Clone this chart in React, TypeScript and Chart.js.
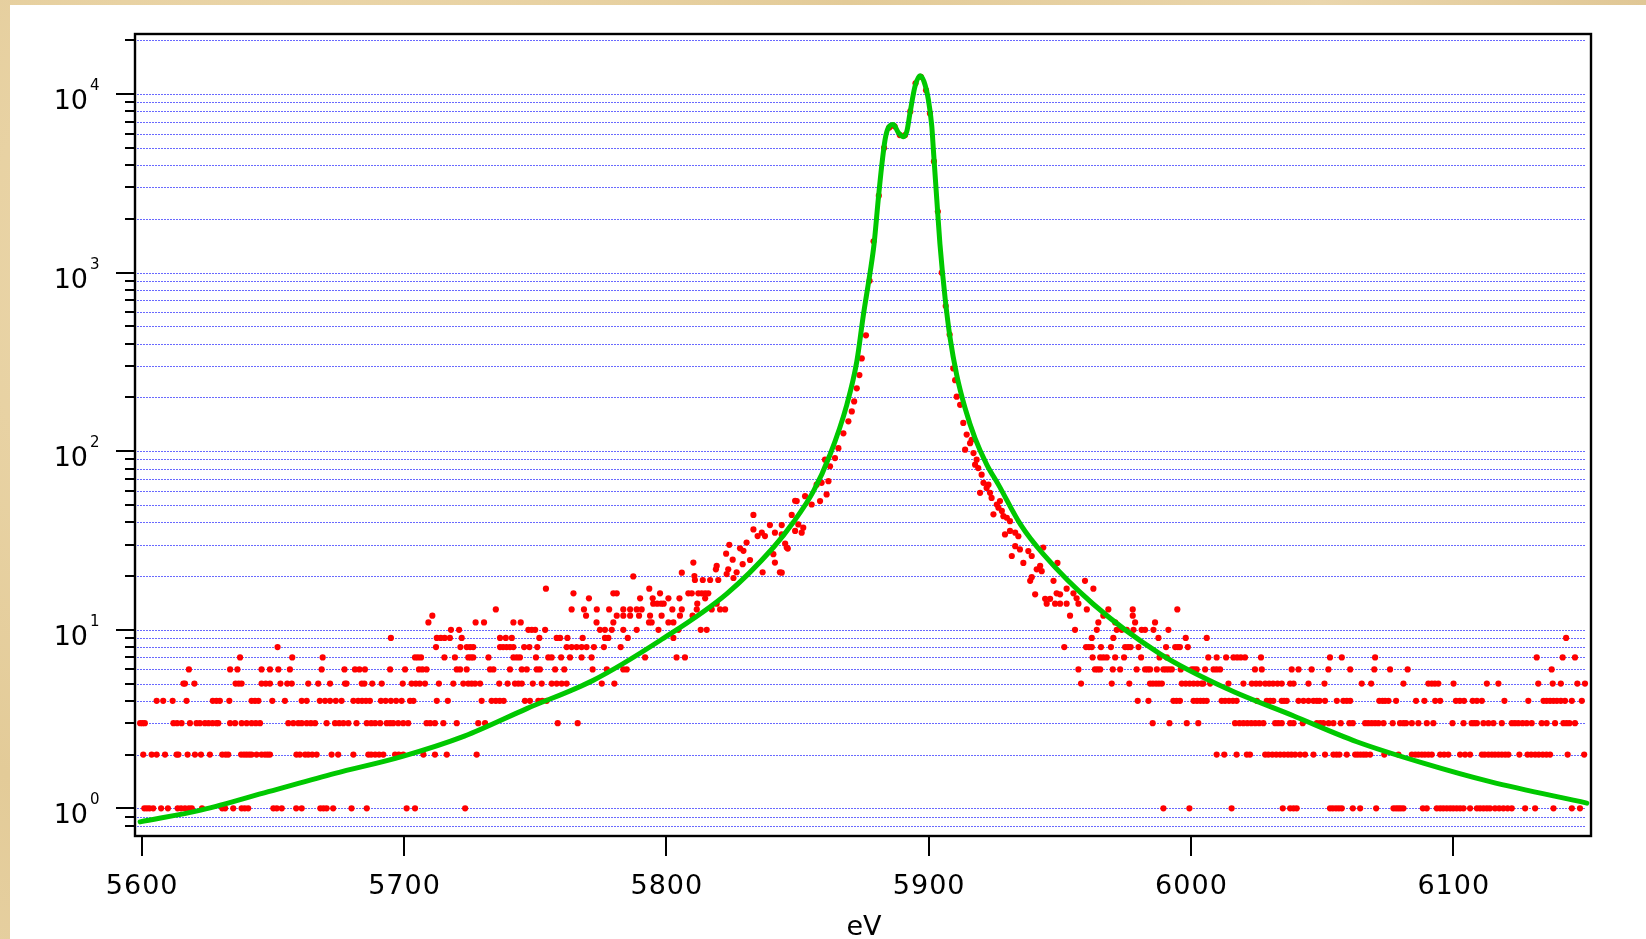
import React, { useEffect, useRef } from "react";
import { Chart, registerables } from "chart.js";

Chart.register(...registerables);

// ---------- axes ----------
const X_MIN = 5597.45;
const X_MAX = 6152.5;
const Y_MIN = 0.735;
const Y_MAX = 21715;
const xTickValues = [5600, 5700, 5800, 5900, 6000, 6100];
const yMajorValues = [1, 10, 100, 1000, 10000];
const yMajorExponents = ["0", "1", "2", "3", "4"];
const yMinorValues = [
  0.8, 0.9, 2, 3, 4, 5, 6, 7, 8, 9, 20, 30, 40, 50, 60, 70, 80, 90,
  200, 300, 400, 500, 600, 700, 800, 900, 2000, 3000, 4000, 5000, 6000,
  7000, 8000, 9000, 20000,
];
const xAxisTitle = "eV";

// ---------- fitted curve (green) ----------
const fitEnergy = [
  5599.4, 5622.9, 5648.3, 5673.7, 5699.1, 5723, 5746.8, 5772.2, 5797.6,
  5823, 5840.8, 5848.4, 5856.1, 5862.4, 5868.8, 5872.6, 5875.1, 5877.7, 5879.2,
  5880.8, 5882.1, 5883.4, 5884.6, 5886.5, 5888.5, 5890.4, 5891.7, 5892.9, 5894.8,
  5896.7, 5898.2, 5899.9, 5901.2, 5901.8, 5902.4, 5903.1, 5904.3, 5906.3, 5908.2,
  5910.7, 5913.9, 5917.7, 5922.2, 5926.6, 5935, 5943.7, 5962.8, 5988.2, 6013.6,
  6039, 6063.2, 6088.6, 6114, 6150.9,
];
const fitCounts = [
  0.84, 0.98, 1.24, 1.57, 1.95, 2.54, 3.62, 5.22, 8.71,
  15.9, 28.9, 40, 59.8, 95.6, 182, 317, 577, 1007, 1450,
  2577, 3955, 5572, 6474, 6758, 6070, 5766, 6198, 7847, 11050,
  12680, 11780, 9300, 6607, 4898, 3631, 2577, 1450, 714, 428,
  267, 174, 118, 84, 65, 38.9, 26.5, 13.9, 7.34, 4.69,
  3.3, 2.36, 1.79, 1.41, 1.07,
];

// ---------- measured histogram (red), energies grouped by count ----------
const count1 = [
  5601, 5602, 5603, 5604.4, 5607.4, 5610, 5613.7, 5615, 5616.5, 5618, 5619.1, 5623,
  5630.7, 5631.8, 5634.9, 5638.1, 5639.3, 5640.6, 5650.2, 5651.5, 5653.4, 5658.9,
  5661, 5668.1, 5669.3, 5670.5, 5673, 5680, 5685.8, 5701, 5704.2, 5723.3,
  5989.5, 5999.4, 6015.5, 6035, 6037.8, 6039.1, 6040.3, 6053, 6054.1, 6055.3,
  6056.4, 6057.5, 6061.7, 6064.5, 6070.6, 6077.2, 6078.2, 6079.1, 6080, 6081,
  6088.4, 6089.9, 6093.7, 6095, 6096.2, 6097.5, 6098.8, 6100, 6101.3, 6102.6,
  6103.9, 6106.4, 6109, 6110.2, 6111.5, 6112.8, 6114, 6115.9, 6117.5, 6119.1,
  6120.7, 6122.3, 6127.4, 6131.2, 6138.2, 6145.2, 6148.3,
];
const count2 = [
  5600.6, 5603.8, 5605.7, 5608.9, 5613.3, 5614, 5617.5, 5620.3, 5622.6, 5626,
  5630.7, 5632, 5633, 5637.9, 5639, 5640, 5641, 5641.9, 5643.8, 5645.7, 5647,
  5648, 5648.9, 5659, 5660.3, 5662.3, 5663.5, 5665, 5666.7, 5672.4, 5674.9,
  5680.7, 5686.4, 5687.5, 5689, 5690.5, 5692.1, 5696.6, 5698, 5699.7, 5707.4,
  5711.8, 5716.3, 5727.7,
  6009.8, 6012.7, 6017.4, 6021.3, 6022.5, 6028.3, 6029.5, 6031, 6032.5, 6034,
  6035.5, 6037, 6038.3, 6039.7, 6041.6, 6043.5, 6046.7, 6051.1, 6054.3, 6055.5,
  6056.6, 6059.4, 6062.6, 6063.6, 6064.7, 6065.8, 6066.8, 6068.3, 6073.7, 6079.1,
  6084.2, 6085.5, 6086.7, 6088, 6089.2, 6090.5, 6091.8, 6095, 6096.5, 6098.1,
  6102.6, 6104.5, 6106.4, 6110.9, 6112, 6113.4, 6114.7, 6115.9, 6117.2, 6118.5,
  6119.8, 6121, 6125.2, 6128.3, 6129.7, 6131.2, 6132.6, 6134.1, 6135.5, 6136.9,
  6143.6, 6149.9,
];
const count3 = [
  5599.4, 5600.3, 5601.2, 5612.1, 5613.5, 5615.2, 5618.4, 5620.9, 5622.2, 5624.1,
  5625.5, 5627, 5628.5, 5629.2, 5633.7, 5635.6, 5638.1, 5640, 5641.9, 5643.5,
  5645.1, 5655.9, 5657.8, 5659.7, 5661, 5662.9, 5664.5, 5666.1, 5670.5, 5673.7,
  5675.3, 5676.9, 5678.8, 5681.9, 5685.8, 5687.5, 5689, 5690.9, 5693.4, 5694.7,
  5695.9, 5697.8, 5699.7, 5701.6, 5708.6, 5710, 5711.8, 5715, 5720.1, 5728.3,
  5730.9, 5758.6, 5766.2,
  5985.4, 5991.8, 5998.4, 6002.8, 6016.8, 6018.5, 6020, 6021.5, 6023, 6024.5,
  6026, 6027.6, 6032.1, 6033.3, 6034.6, 6037.8, 6039.1, 6042.6, 6048, 6049.3,
  6050.5, 6052.5, 6054.3, 6057.1, 6060.4, 6061.7, 6066.4, 6067.6, 6068.9, 6070.2,
  6071.5, 6073.4, 6076.9, 6079.7, 6081, 6082, 6084.2, 6086.7, 6089.9, 6092.4,
  6099.7, 6103.9, 6107, 6108, 6109, 6111.5, 6113.4, 6115.3, 6118.5, 6122.3,
  6123.5, 6124.8, 6126.4, 6128, 6129.9, 6133.7, 6135.6, 6138.8, 6142, 6143.2,
  6144.3, 6146.4,
];
const count4 = [
  5605.7, 5608.2, 5611.8, 5617.1, 5627.1, 5628.5, 5629.8, 5633.4, 5641.9, 5643.2,
  5644.5, 5649.8, 5654.6, 5661, 5662.9, 5667.9, 5669.9, 5671.8, 5674, 5676.2,
  5680.7, 5682.5, 5684, 5685.5, 5687, 5691.2, 5693, 5695, 5697, 5699.1, 5702.3,
  5703.6, 5712.5, 5716.7, 5729.6, 5733.4, 5735, 5736.5, 5738, 5746.1, 5748,
  5751.2, 5752.7, 5754.4,
  5979.7, 5983.8, 5993.3, 5994.5, 5995.8, 6001, 6002.3, 6003.6, 6004.8, 6006,
  6011.7, 6013, 6014.5, 6016, 6017.4, 6025.1, 6028.9, 6030.2, 6031.4, 6034.6,
  6035.5, 6036.5, 6041, 6042.9, 6044.8, 6046.7, 6048, 6049, 6051.1, 6055.6,
  6058.1, 6059.4, 6060.7, 6071.8, 6073, 6074, 6075.3, 6078.2, 6085.8, 6089,
  6093.1, 6095, 6101, 6102.5, 6104.1, 6107.4, 6109, 6110.9, 6119.5, 6128.6,
  6134.4, 6135.6, 6136.9, 6138.2, 6139.5, 6141, 6142.6, 6145.2, 6149,
];
const count5 = [
  5615.9, 5616.5, 5620.1, 5635.8, 5637, 5638.1, 5645.7, 5647.3, 5648.9, 5652.9,
  5655.5, 5657.2, 5663.5, 5667.3, 5671.8, 5677.5, 5678.1, 5683.9, 5684.9, 5687.9,
  5691.5, 5699.5, 5702.9, 5704.5, 5706, 5708, 5713.3, 5718.8, 5722.6, 5724.5,
  5725.8, 5727.1, 5729, 5736.3, 5739.5, 5742.3, 5743.6, 5744.9, 5749.1, 5752.5,
  5756.3, 5758.2, 5760.1, 5762, 5775.4, 5780.2,
  5958.1, 5969.8, 5976.5, 5984.4, 5985.5, 5986.7, 5987.8, 5988.9, 5996.5, 5998,
  5999.5, 6001, 6002.5, 6004, 6004.7, 6007.3, 6014.3, 6020, 6023.2, 6024.8,
  6026.3, 6028.3, 6029.8, 6031.3, 6033, 6034.6, 6037.8, 6039.1, 6044.8, 6050.9,
  6065.1, 6068.7, 6081, 6090.5, 6091.8, 6093, 6094.3, 6100.1, 6112.8, 6117.2,
  6132.4, 6137.9, 6141, 6147.3, 6150.2,
];
const count6 = [
  5618, 5633.7, 5636.5, 5645.7, 5648.9, 5652.1, 5656.5, 5668.6, 5677.3, 5681.3,
  5683, 5685.1, 5694.7, 5700.4, 5705.7, 5707, 5708.6, 5720.1, 5721.4, 5723.9,
  5732.8, 5734.1, 5740.4, 5744.9, 5746.8, 5750.6, 5751.8, 5757.6, 5761.1, 5771.9,
  5777.3, 5783.6, 5784.9,
  5957.1, 5963.4, 5964.4, 5965.4, 5970.2, 5973, 5979.3, 5982.5, 5983.5, 5984.4,
  5987, 5989.5, 5990.5, 5991.6, 5992.7, 5996.1, 6000.3, 6001.2, 6002.2, 6005.4,
  6008.6, 6009.8, 6011.1, 6024.4, 6027, 6038.4, 6041, 6046, 6052.4, 6060.7,
  6069.9, 6075.9, 6082.6, 6137.5,
];
const count7 = [
  5637.5, 5657.4, 5669, 5704.2, 5705.3, 5706.5, 5715.4, 5719.4, 5724.5, 5725.5,
  5726.4, 5732.2, 5741.7, 5743, 5744.2, 5750.3, 5755, 5756.3, 5759.9, 5763.3,
  5767.7, 5771.5, 5791.9, 5803.9, 5807.1,
  5962.5, 5965.4, 5966.6, 5967.9, 5971.1, 5974.5, 5981, 5988, 5990.8, 6006.6,
  6009.8, 6013.4, 6016.2, 6017.6, 6019, 6020.6, 6026.7, 6053, 6057.5, 6070.2,
  6131.8, 6141.7, 6146.4,
];
const count8 = [
  5651.8, 5712.2, 5721.5, 5723.9, 5725.2, 5726.4, 5736.6, 5737.8, 5739.1, 5740.4,
  5741.7, 5745.8, 5747.8, 5750.8, 5762, 5763.9, 5765.8, 5767.7, 5769.6, 5772.4,
  5776.2, 5782.6,
  5951.7, 5960, 5961.1, 5962.2, 5965.7, 5969.5, 5974.9, 5976, 5977, 5980,
  5990.5, 5994, 5995, 5995.8, 5998.8,
];
const count9 = [
  5695, 5712.5, 5714, 5715.5, 5717.5, 5722, 5736.6, 5738.8, 5741.1, 5751.6,
  5758.2, 5759.5, 5762.3, 5768.1, 5776.6, 5777.9, 5785.3, 5802.7,
  5962.2, 5970.4, 5987.6, 5998, 6006, 6143,
];
const count10 = [
  5717.9, 5721, 5747.4, 5748.7, 5750, 5753.8, 5774.7, 5776.6, 5779.2, 5783.6,
  5788.7, 5797, 5804.6, 5813.1, 5815.4,
  5955.8, 5964.1, 5971.7, 5973.6, 5975.5, 5978.1, 5981.2, 5982.5, 5985.7, 5991.4,
];
const count11 = [
  5709.3, 5727.3, 5730.5, 5741.7, 5744.5, 5773.4, 5779.8, 5793.4, 5794.4, 5800.8,
  5802.7, 5964.7, 5971.1, 5978.7, 5986.3,
];
const count12 = [
  5710.8, 5769.4, 5781.1, 5783.6, 5786.2, 5789.6, 5793.8, 5798.2, 5805.2, 5810,
  5953.9, 5966.6, 5977.8,
];
const count13 = [
  5735, 5763.9, 5768.6, 5773.5, 5778.2, 5783.6, 5786.2, 5788.7, 5790.6, 5802.3,
  5805.9, 5811.6, 5817.3, 5820.5, 5822.4, 5960.3, 5968.5, 5977.8, 5994.8,
];
const count14 = [5795, 5796.5, 5798, 5799, 5811.8, 5819.2, 5945, 5948.2, 5950.1, 5952.6, 5957.1];
const count15 = [5770.5, 5790, 5794.8, 5800.8, 5805, 5814.8, 5956.4];
const count16 = [5764.6, 5779.8, 5781.1, 5797.6, 5808.4, 5809.7, 5812.2, 5813.5, 5814.8, 5816, 5948.8, 5955.2];
const count17 = [5754.1, 5793.5, 5952.6, 5962.8];

// points near the peak (energy, counts)
const peakRegion: [number, number][] = [
  [5787.4, 19.9], [5805.9, 20.9], [5810.7, 20], [5810.9, 19], [5813.9, 19], [5816.7, 19],
  [5819.8, 19], [5825.6, 19.5], [5810.3, 23.8], [5819.2, 22.8], [5818.9, 21.8],
  [5823.6, 21.8], [5823, 20.5], [5825.3, 24.7], [5826.8, 21], [5829.1, 23.3],
  [5830.6, 30.8], [5831.9, 24.6], [5833.2, 44], [5833.2, 36.5], [5834.8, 33.5],
  [5836.4, 35], [5837.6, 33.5], [5839.5, 38.6], [5836.7, 21], [5840.8, 26.5],
  [5841.4, 23.8], [5843.3, 21], [5845.3, 30.4], [5846.3, 28.5], [5847.8, 44],
  [5849.1, 52.8], [5850.3, 38.9], [5844, 38.6], [5841.4, 35], [5822.8, 26.7],
  [5824, 29.9], [5828.1, 28.6], [5829.4, 27.7], [5844, 20.9], [5845.9, 28.9],
  [5844, 34.2], [5849.1, 35.8], [5851.6, 35], [5852.2, 37.3], [5849.7, 52.6],
  [5852.9, 56], [5855.4, 50.3], [5858.6, 52.6], [5857.3, 65], [5859.2, 66.5],
  [5861.1, 57.3], [5861.8, 68], [5860.5, 89.7], [5862.4, 82.4], [5864.3, 91.6],
  [5865.6, 104], [5867.5, 126], [5869.4, 147], [5870.7, 167], [5871.6, 190],
  [5872.6, 225], [5873.6, 267], [5874.5, 331], [5876.1, 446], [5877.5, 900],
  [5879, 1500], [5881, 2700], [5883, 5000], [5885, 6500], [5887, 6600],
  [5889, 5900], [5891, 5900], [5893, 8000], [5895, 11500], [5897, 12500],
  [5899, 10500], [5900.5, 7800], [5902, 4200], [5903.5, 2200], [5905, 1000],
  [5906.5, 650], [5908, 450], [5909.4, 291], [5910.1, 250], [5910.7, 202],
  [5912, 182], [5913.2, 144], [5914.5, 124], [5913.9, 102], [5915.8, 111],
  [5917.1, 97.7], [5918.3, 89.7], [5918.9, 80.5], [5920.2, 73.9], [5920.9, 66.5],
  [5919.6, 58.5], [5922.1, 62.3], [5923.4, 58.5], [5924, 54.8], [5926, 50.3],
  [5924.7, 44.3], [5916.4, 116], [5917.7, 84.1], [5922.8, 65], [5927.2, 52.6],
  [5926.6, 48.3], [5927.9, 46.3], [5928.5, 43.3], [5929.8, 42.4], [5931, 40.6],
  [5931, 35.8], [5933, 35], [5929.1, 34.2], [5934.2, 33.4], [5933, 29.4],
  [5934.8, 28.2], [5938, 27.6], [5931.7, 25.9], [5936.1, 23.7], [5939.3, 25.9],
  [5942.5, 22.8], [5943.1, 21.3], [5941.2, 21.8], [5943.7, 28.9], [5938.7, 18.8],
  [5939.3, 19.7], [5940.6, 15.8], [5944.4, 14.9], [5946.3, 14.9], [5947.6, 18.8],
  [5950.1, 15.8], [5949.1, 23.7], [5959.6, 18.8],
];

const countLevels = [
  count1, count2, count3, count4, count5, count6, count7, count8, count9,
  count10, count11, count12, count13, count14, count15, count16, count17,
];

const FONT = '"DejaVu Sans", Verdana, sans-serif';

const decorPlugin = {
  id: "decor",
  beforeDatasetsDraw(chart: any) {
    const { ctx, chartArea: ca, scales } = chart;
    const y = scales.y;
    ctx.save();
    ctx.strokeStyle = "rgb(105,105,255)";
    ctx.lineWidth = 1;
    ctx.setLineDash([2, 1]);
    for (const v of [...yMajorValues, ...yMinorValues]) {
      const py = Math.round(y.getPixelForValue(v)) + 0.5;
      ctx.beginPath();
      ctx.moveTo(ca.left + 2, py);
      ctx.lineTo(ca.right - 6, py);
      ctx.stroke();
    }
    ctx.restore();
  },
  afterDatasetsDraw(chart: any) {
    const { ctx, chartArea: ca, scales } = chart;
    const x = scales.x;
    const y = scales.y;
    ctx.save();
    ctx.setLineDash([]);
    ctx.strokeStyle = "#000";
    ctx.fillStyle = "#000";
    // frame
    ctx.lineWidth = 2.4;
    ctx.strokeRect(ca.left, ca.top, ca.right - ca.left, ca.bottom - ca.top);
    // y ticks
    ctx.lineWidth = 2;
    for (const v of yMajorValues) {
      const py = Math.round(y.getPixelForValue(v));
      ctx.beginPath();
      ctx.moveTo(ca.left - 19, py);
      ctx.lineTo(ca.left, py);
      ctx.stroke();
    }
    for (const v of yMinorValues) {
      const py = Math.round(y.getPixelForValue(v));
      ctx.beginPath();
      ctx.moveTo(ca.left - 10, py);
      ctx.lineTo(ca.left, py);
      ctx.stroke();
    }
    // x ticks
    for (const v of xTickValues) {
      const px = Math.round(x.getPixelForValue(v));
      ctx.beginPath();
      ctx.moveTo(px, ca.bottom);
      ctx.lineTo(px, ca.bottom + 20);
      ctx.stroke();
    }
    // y labels: 10 with superscript exponent
    yMajorValues.forEach((v, i) => {
      const py = y.getPixelForValue(v);
      ctx.font = `27px ${FONT}`;
      ctx.textAlign = "right";
      ctx.textBaseline = "alphabetic";
      ctx.fillText("10", ca.left - 47, py + 15);
      ctx.font = `15px ${FONT}`;
      ctx.textAlign = "left";
      ctx.fillText(yMajorExponents[i], ca.left - 45, py - 4);
    });
    // x labels
    ctx.font = `27px ${FONT}`;
    ctx.textAlign = "center";
    ctx.textBaseline = "alphabetic";
    try {
      (ctx as any).letterSpacing = "1px";
    } catch (e) {}
    for (const v of xTickValues) {
      const px = x.getPixelForValue(v);
      ctx.fillText(String(v), px + 0.5, ca.bottom + 58);
    }
    try {
      (ctx as any).letterSpacing = "0px";
    } catch (e) {}
    // axis title
    ctx.fillText(xAxisTitle, (ca.left + ca.right) / 2 + 1, ca.bottom + 99);
    ctx.restore();
  },
};

export default function App() {
  const canvasRef = useRef<HTMLCanvasElement | null>(null);

  useEffect(() => {
    const canvas = canvasRef.current;
    if (!canvas) return;

    const histogram: { x: number; y: number }[] = [];
    countLevels.forEach((energies, i) => {
      energies.forEach((e) => histogram.push({ x: e, y: i + 1 }));
    });
    peakRegion.forEach(([e, c]) => histogram.push({ x: e, y: c }));

    const fit = fitEnergy.map((e, i) => ({ x: e, y: fitCounts[i] }));

    const chart = new Chart(canvas, {
      type: "scatter",
      data: {
        datasets: [
          {
            label: "fit",
            data: fit,
            showLine: true,
            borderColor: "rgb(0,200,0)",
            backgroundColor: "rgb(0,200,0)",
            borderWidth: 5,
            pointRadius: 0,
            cubicInterpolationMode: "monotone",
            borderJoinStyle: "round",
            borderCapStyle: "round",
            order: 0,
          } as any,
          {
            label: "data",
            data: histogram,
            showLine: false,
            pointRadius: 3.1,
            pointBorderWidth: 0,
            pointBackgroundColor: "#ff0000",
            backgroundColor: "#ff0000",
            borderColor: "#ff0000",
            order: 1,
          } as any,
        ],
      },
      options: {
        responsive: false,
        animation: false,
        devicePixelRatio: 1,
        events: [],
        layout: { padding: { left: 135, right: 55, top: 34, bottom: 103 } },
        plugins: {
          legend: { display: false },
          tooltip: { enabled: false },
        },
        scales: {
          x: { type: "linear", min: X_MIN, max: X_MAX, display: false },
          y: { type: "logarithmic", min: Y_MIN, max: Y_MAX, display: false },
        },
      },
      plugins: [decorPlugin],
    });

    return () => chart.destroy();
  }, []);

  return (
    <div
      style={{
        position: "fixed",
        left: 0,
        top: 0,
        width: 1646,
        height: 939,
        overflow: "hidden",
        background:
          "radial-gradient(circle at 20% 30%, #efdcb3 0%, #e3cb98 40%, #ead6ac 70%, #dcc18c 100%)",
      }}
    >
      <div
        style={{
          position: "absolute",
          left: 10,
          top: 5,
          right: 0,
          bottom: 0,
          background: "#ffffff",
        }}
      />
      <canvas
        ref={canvasRef}
        width={1646}
        height={939}
        style={{ position: "absolute", left: 0, top: 0, width: 1646, height: 939 }}
      />
    </div>
  );
}
